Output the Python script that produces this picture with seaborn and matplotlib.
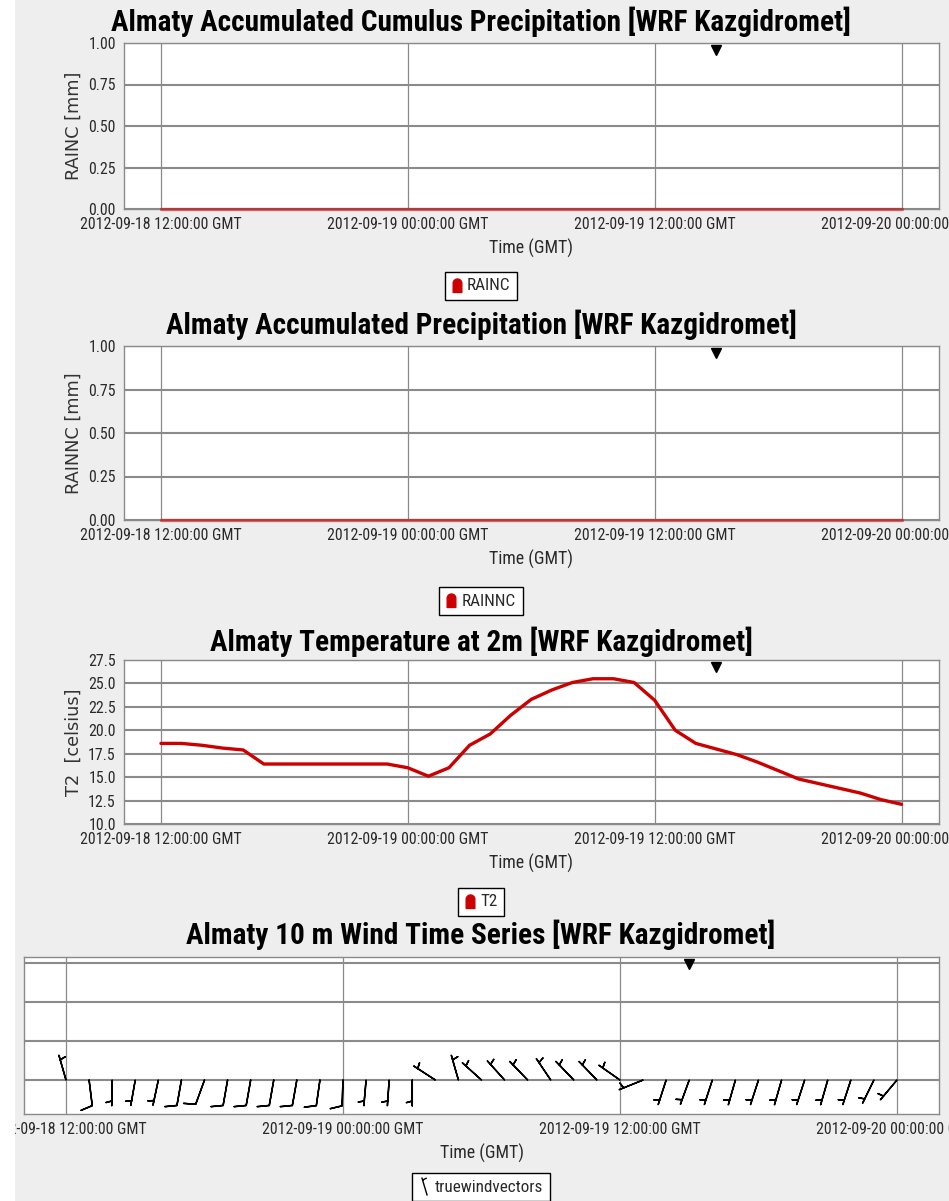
import numpy as np
import pandas as pd
import matplotlib
matplotlib.use("Agg")
import matplotlib.pyplot as plt
import matplotlib.dates as mdates
import matplotlib.transforms as mtransforms
from matplotlib import font_manager as fm
from matplotlib.path import Path
from matplotlib.lines import Line2D
from matplotlib.patches import Rectangle
import seaborn as sns

# ---- data (hourly, from 2012-09-18 12:00 GMT) ----
start_time = "2012-09-18 12:00"
now_time = "2012-09-19 15:00"

rainc = [0.0, 0.0, 0.0, 0.0, 0.0, 0.0, 0.0, 0.0, 0.0, 0.0, 0.0, 0.0, 0.0,
         0.0, 0.0, 0.0, 0.0, 0.0, 0.0, 0.0, 0.0, 0.0, 0.0, 0.0, 0.0, 0.0,
         0.0, 0.0, 0.0, 0.0, 0.0, 0.0, 0.0, 0.0, 0.0, 0.0, 0.0]
rainnc = [0.0, 0.0, 0.0, 0.0, 0.0, 0.0, 0.0, 0.0, 0.0, 0.0, 0.0, 0.0, 0.0,
          0.0, 0.0, 0.0, 0.0, 0.0, 0.0, 0.0, 0.0, 0.0, 0.0, 0.0, 0.0, 0.0,
          0.0, 0.0, 0.0, 0.0, 0.0, 0.0, 0.0, 0.0, 0.0, 0.0, 0.0]
t2 = [18.6, 18.6, 18.4, 18.1, 17.9, 16.4, 16.4, 16.4, 16.4, 16.4, 16.4, 16.4,
      16.0, 15.1, 16.0, 18.4, 19.6, 21.6, 23.3, 24.3, 25.1, 25.5, 25.5, 25.1,
      23.2, 20.0, 18.6, 18.0, 17.4, 16.6, 15.7, 14.8, 14.3, 13.8, 13.3, 12.6,
      12.1]
# wind direction (deg, blowing from) and speed (barb units)
wind_dir = [344, 173, 181, 190, 192, 190, 200, 190, 190, 190, 190, 188, 182,
            185, 184, 180, 303, 344, 312, 318, 316, 326, 316, 316, 305, 248,
            198, 200, 198, 196, 198, 196, 198, 196, 198, 206, 220]
wind_spd = [5, 10, 5, 5, 5, 10, 10, 10, 10, 10, 10, 10, 10,
            5, 5, 5, 5, 5, 5, 5, 5, 5, 5, 5, 5, 5,
            5, 5, 5, 5, 5, 5, 5, 5, 5, 5, 5]

titles = ["Almaty Accumulated Cumulus Precipitation [WRF Kazgidromet]",
          "Almaty Accumulated Precipitation [WRF Kazgidromet]",
          "Almaty Temperature at 2m [WRF Kazgidromet]",
          "Almaty 10 m Wind Time Series [WRF Kazgidromet]"]
ylabels = ["RAINC [mm]", "RAINNC [mm]", "T2  [celsius]"]
legend_labels = ["RAINC", "RAINNC", "T2", "truewindvectors"]

times = pd.date_range(start_time, periods=len(t2), freq="h")

# ---- style ----
BG = "#eeeeee"
GRID = "#8a8a8a"
RED = "#cc0000"
TXT = "#2a2a2a"

sns.set_style("white")

# pick the narrowest sans family that is installed
names = {(f.name, f.stretch) for f in fm.fontManager.ttflist}
fams = {f.name for f in fm.fontManager.ttflist}
stretch = "normal"
if "Liberation Sans Narrow" in fams:
    narrow = ["Liberation Sans Narrow", "DejaVu Sans"]
elif "Roboto Condensed" in fams:
    narrow = ["Roboto Condensed", "DejaVu Sans"]
elif ("DejaVu Sans", "condensed") in names or ("DejaVu Sans", "semi-condensed") in names:
    narrow = ["DejaVu Sans"]
    stretch = "condensed"
else:
    narrow = ["Liberation Sans", "DejaVu Sans"]
plt.rcParams["font.family"] = narrow
plt.rcParams["font.stretch"] = stretch

W, H = 949, 1201
fig = plt.figure(figsize=(W / 100, H / 100), dpi=100, facecolor=BG)
renderer = fig.canvas.get_renderer()


def fit(s, target, **kw):
    t = fig.text(0, 0, s, fontsize=10, **kw)
    w = t.get_window_extent(renderer).width
    t.remove()
    return 10 * target / w


TITLE_FS = fit(titles[0], 739, fontweight="bold")
TICK_FS = fit("2012-09-18 12:00:00 GMT", 160)
XLAB_FS = fit("Time (GMT)", 84)
LEG_FS = fit("RAINNC", 54)
YLAB_FS = fit("RAINNC [mm]", 122, family="DejaVu Sans", stretch="normal")


def px_axes(left, top, right, bottom):
    return fig.add_axes([left / W, 1 - bottom / H, (right - left) / W, (bottom - top) / H])


margin = pd.Timedelta(hours=1.82)
xlim = (mdates.date2num(times[0] - margin), mdates.date2num(times[-1] + margin))

# bell-shaped legend marker
theta = np.linspace(0, np.pi, 20)
bell = Path(np.vstack([[[0.5, -0.8]],
                       np.column_stack([0.5 * np.cos(theta), 0.25 + 0.5 * np.sin(theta)]),
                       [[-0.5, -0.8], [0.5, -0.8]]]), closed=True)
barb_icon = Path([(0.3, -1.0), (-0.3, 1.0), (-0.22, 0.7), (0.25, 0.95)],
                 [Path.MOVETO, Path.LINETO, Path.MOVETO, Path.LINETO])


def style(ax, top, bottom, title_y, legend_y, title, handle, label):
    hpx = bottom - top
    ax.set_facecolor("white")
    for s in ax.spines.values():
        s.set_color(GRID)
        s.set_linewidth(1)
    ax.set_axisbelow(True)
    ax.grid(True, axis="y", color=GRID, lw=1.5)
    ax.grid(True, axis="x", color=GRID, lw=0.9)
    ax.xaxis.set_major_locator(mdates.HourLocator(byhour=[0, 12]))
    ax.xaxis.set_major_formatter(mdates.DateFormatter("%Y-%m-%d %H:%M:%S GMT"))
    ax.set_xlim(*xlim)
    ax.tick_params(length=3.5, width=1, color=GRID, labelsize=TICK_FS, pad=2,
                   labelcolor=TXT)
    ax.set_xlabel("Time (GMT)", fontsize=XLAB_FS, color=TXT)
    ax.xaxis.label.set_va("center")
    ax.xaxis.set_label_coords(0.5, -39 / hpx)
    # current-time marker
    trans = mtransforms.blended_transform_factory(ax.transData, ax.transAxes)
    ax.plot([mdates.date2num(pd.Timestamp(now_time))], [1 - 7 / hpx], marker="v",
            color="black", ms=7.5, transform=trans, clip_on=False, zorder=5)
    fig.text(481 / W, 1 - title_y / H, title, ha="center", va="center",
             fontsize=TITLE_FS, fontweight="bold", color="black")
    leg = fig.legend([handle], [label], loc="center",
                     bbox_to_anchor=(481 / W, 1 - legend_y / H), frameon=True,
                     fancybox=False, edgecolor="black", facecolor="white",
                     framealpha=1, fontsize=LEG_FS, borderpad=0.4, handlelength=0.6,
                     handletextpad=0.3, borderaxespad=0)
    leg.get_frame().set_linewidth(1)
    for t in leg.get_texts():
        t.set_color(TXT)


def red_handle():
    return Line2D([], [], marker=bell, color=RED, markersize=10, linestyle="none")


panels = [
    (43, 209, 22, 286, rainc),
    (346, 520, 325, 601, rainnc),
    (660, 824, 642, 902, t2),
]
for i, (top, bottom, ty, ly, values) in enumerate(panels):
    ax = px_axes(123.5, top, 939, bottom)
    sns.lineplot(x=times, y=values, ax=ax, color=RED, lw=2.4, legend=False)
    if i < 2:
        # zero line sits on the axis: let it show above the frame
        ax.lines[0].set_clip_on(False)
        ax.lines[0].set_alpha(0.55)
        ax.lines[0].set_zorder(4)
    style(ax, top, bottom, ty, ly, titles[i], red_handle(), legend_labels[i])
    ax.set_ylabel(ylabels[i], fontsize=YLAB_FS, family="DejaVu Sans",
                  stretch="normal", color="#333333")
    ax.yaxis.label.set_va("center")
    ax.yaxis.set_label_coords(-49.5 / 815.5, 0.5)
    if i < 2:
        ax.set_ylim(0, 1)
        ax.set_yticks(np.arange(0, 1.01, 0.25))
        ax.yaxis.set_major_formatter(plt.FormatStrFormatter("%.2f"))
    else:
        ax.set_ylim(10, 27.5)
        ax.set_yticks(np.arange(10, 27.6, 2.5))
        ax.yaxis.set_major_formatter(plt.FormatStrFormatter("%.1f"))
    ax.set_xlim(*xlim)

# ---- wind barbs panel ----
top, bottom = 957, 1114
ax = px_axes(24, top, 939, bottom)
rad = np.deg2rad(np.array(wind_dir, dtype=float))
spd = np.array(wind_spd, dtype=float)
u = -spd * np.sin(rad)
v = -spd * np.cos(rad)
BARB_ROW = 0.0
ax.barbs(mdates.date2num(times), np.full(len(times), BARB_ROW), u, v,
         length=6.1, linewidth=1.1, color="black", pivot="tip",
         sizes=dict(height=0.45), zorder=3)
ax.set_ylim(-0.87, 3.15)
ax.set_yticks([0, 1, 2, 3])
style(ax, top, bottom, 935, 1187, titles[3],
      Line2D([], [], marker=barb_icon, markerfacecolor="none",
             markeredgecolor="black", markersize=13, markeredgewidth=1,
             linestyle="none"),
      legend_labels[3])
ax.tick_params(axis="y", left=False, labelleft=False)

# white page strip on the far left
fig.add_artist(Rectangle((0, 0), 15 / W, 1, transform=fig.transFigure,
                         facecolor="white", edgecolor="none", zorder=100))

fig.savefig("out.png", dpi=100, facecolor=BG)
